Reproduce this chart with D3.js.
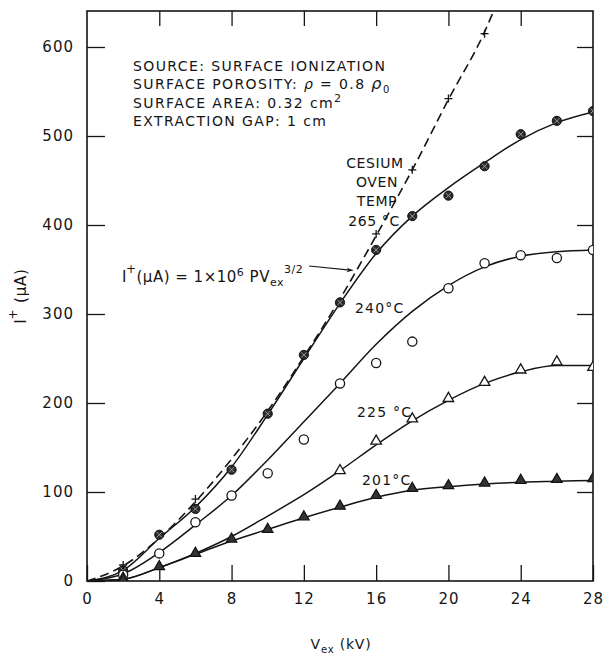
<!DOCTYPE html>
<html>
<head>
<meta charset="UTF-8">
<script src="https://cdn.jsdelivr.net/npm/d3@7/dist/d3.min.js"></script>
<style>
body{
    margin: 0;
    background: #fff;
}
text{
    font-family: "DejaVu Sans", sans-serif;
    fill: #151515;
}
</style>
</head>
<body>
<script>
var width = 604;
var height = 654;

// axis ticks
var xTicks = [0, 4, 8, 12, 16, 20, 24, 28];
var yTicks = [0, 100, 200, 300, 400, 500, 600];

// measured points, V_ex in kV, I+ in uA
var vPts = [2, 4, 6, 8, 10, 12, 14, 16, 18, 20, 22, 24, 26, 28];
var pts265 = [12, 52, 81, 125, 188, 254, 313, 372, 410, 433, 466, 502, 517, 528];
var pts240 = [7, 31, 66, 96, 121, 159, 222, 245, 269, 329, 357, 366, 363, 372];
var pts201 = [0, 15, 30, 46, 57, 71, 83, 95, 103, 106, 109, 112, 113, 114];
var vPts225 = [2, 14, 16, 18, 20, 22, 24, 26, 28];
var pts225 = [2, 123, 156, 181, 204, 222, 236, 245, 239];

// child-Langmuir marks (+)
var vTheoryPts = [2, 6, 16, 18, 20, 22];
var theoryPts = [18, 92, 390, 462, 542, 615];

// drawn curves
var vFit = [0, 2, 4, 6, 8, 10, 12, 14, 16, 18, 20, 22, 24, 26, 28];
var fit265 = [0, 12, 48, 83, 128, 187, 250, 312, 368, 410, 442, 470, 496, 515, 527];
var fit240 = [0, 8, 32, 63, 96, 136, 179, 222, 266, 303, 332, 353, 365, 370, 372];
var fit225 = [0, 2, 15, 31, 50, 73, 97, 124, 153, 180, 203, 222, 235, 242, 242];
var fit201 = [0, 2, 15, 30, 45, 58, 71, 83, 94, 102, 106, 109, 111, 112, 113];
var vTheory = [0, 2, 4, 6, 8, 10, 12, 14, 16, 18, 20, 22, 22.7];
var theory = [0, 17, 48, 89, 137, 191, 252, 317, 388, 462, 541, 617, 650];

var pLeft = 87, pRight = 593, pTop = 11, pBottom = 581;

var x = d3.scaleLinear().domain([0, 28]).range([pLeft, pRight]);
var y = d3.scaleLinear().domain([0, 600]).range([pBottom, 47]);

var svg = d3.select('body')
    .append('svg')
    .attr('width', width)
    .attr('height', height)

var defs = svg.append("defs")
defs.append("clipPath").attr("id", "plotclip")
    .append("rect")
    .attr("x", pLeft).attr("y", pTop)
    .attr("width", pRight - pLeft).attr("height", pBottom - pTop)

defs.append("marker")
    .attr("id", "arrow")
    .attr("viewBox", "0 0 10 10")
    .attr("refX", 10).attr("refY", 5)
    .attr("markerWidth", 9).attr("markerHeight", 6)
    .attr("markerUnits", "userSpaceOnUse")
    .attr("orient", "auto")
    .append("path").attr("d", "M0,1 L10,5 L0,9 L3,5 Z").attr("fill", "#151515")

// axes: ticks point inwards
svg.append("g").attr("transform", "translate(" + pLeft + ",0)")
    .call(d3.axisLeft(y).tickValues(yTicks).tickSizeInner(-18).tickSizeOuter(0).tickPadding(13))
svg.append("g").attr("transform", "translate(0," + pBottom + ")")
    .call(d3.axisBottom(x).tickValues(xTicks).tickSizeInner(-16).tickSizeOuter(0).tickPadding(12))
svg.append("g").attr("transform", "translate(0," + pTop + ")")
    .call(d3.axisTop(x).tickValues(xTicks.slice(1, -1)).tickSizeInner(-15).tickSizeOuter(0).tickFormat(""))
svg.append("g").attr("transform", "translate(" + pRight + ",0)")
    .call(d3.axisRight(y).tickValues(yTicks.slice(1)).tickSizeInner(-16).tickSizeOuter(0).tickFormat(""))

svg.selectAll(".domain").remove()
svg.selectAll(".tick line").attr("stroke", "#151515").attr("stroke-width", 1.3)
svg.selectAll(".tick text")
    .attr("font-size", 15)
    .attr("letter-spacing", 1)
    .attr("fill", "#151515")
    .style("font-family", "DejaVu Sans")

svg.append("rect")
    .attr("x", pLeft).attr("y", pTop)
    .attr("width", pRight - pLeft).attr("height", pBottom - pTop)
    .attr("fill", "none")
    .attr("stroke", "#151515")
    .attr("stroke-width", 1.6)

// curves
var plot = svg.append("g").attr("clip-path", "url(#plotclip)")
function curve(xs, ys){
    return d3.line()
        .x(function(d, i){ return x(xs[i]) })
        .y(function(d){ return y(d) })
        .curve(d3.curveMonotoneX)(ys)
}
plot.append("path").attr("d", curve(vTheory, theory))
    .attr("fill", "none").attr("stroke", "#151515").attr("stroke-width", 1.6)
    .attr("stroke-dasharray", "9,5")
var fits = [fit265, fit240, fit225, fit201]
for (var i = 0; i < fits.length; i++){
    plot.append("path").attr("d", curve(vFit, fits[i]))
        .attr("fill", "none").attr("stroke", "#151515").attr("stroke-width", 1.5)
}

// markers
var tri = d3.symbol().type(d3.symbolTriangle).size(48)

plot.selectAll(".m265").data(pts265).enter().append("g")
    .attr("transform", function(d, i){ return "translate(" + x(vPts[i]) + "," + y(d) + ")" })
    .each(function(){
        var g = d3.select(this)
        g.append("circle").attr("r", 4.6).attr("fill", "#2a2a2a").attr("stroke", "#111").attr("stroke-width", 1)
        g.append("path").attr("d", "M-2.6,-2.6L2.6,2.6M-2.6,2.6L2.6,-2.6").attr("stroke", "#9a9a9a").attr("stroke-width", 1)
    })

plot.selectAll(".m240").data(pts240).enter().append("circle")
    .attr("cx", function(d, i){ return x(vPts[i]) })
    .attr("cy", function(d){ return y(d) })
    .attr("r", 4.6)
    .attr("fill", "#fff").attr("stroke", "#151515").attr("stroke-width", 1.3)

plot.selectAll(".m225").data(pts225).enter().append("path")
    .attr("d", tri)
    .attr("transform", function(d, i){ return "translate(" + x(vPts225[i]) + "," + (y(d) - 1) + ")" })
    .attr("fill", "#fff").attr("stroke", "#151515").attr("stroke-width", 1.3)

plot.selectAll(".m201").data(pts201).enter().append("path")
    .attr("d", tri)
    .attr("transform", function(d, i){ return "translate(" + x(vPts[i]) + "," + (y(d) - 1) + ")" })
    .attr("fill", "#333").attr("stroke", "#111").attr("stroke-width", 1.2)

plot.selectAll(".mth").data(theoryPts).enter().append("path")
    .attr("d", "M-4,0L4,0M0,-4L0,4")
    .attr("transform", function(d, i){ return "translate(" + x(vTheoryPts[i]) + "," + y(d) + ")" })
    .attr("stroke", "#151515").attr("stroke-width", 1.3)

// text notes
var notes = svg.append("g").attr("font-size", 14).attr("letter-spacing", 1.4)
notes.append("text").attr("x", 133).attr("y", 71).text("SOURCE: SURFACE IONIZATION")
var t2 = notes.append("text").attr("x", 133).attr("y", 89)
t2.append("tspan").text("SURFACE POROSITY: ")
t2.append("tspan").attr("font-style", "italic").text("ρ")
t2.append("tspan").text(" = 0.8 ")
t2.append("tspan").attr("font-style", "italic").attr("font-size", 16).text("ρ")
t2.append("tspan").attr("font-size", 10).attr("dy", 4).text("0")
var t3 = notes.append("text").attr("x", 133).attr("y", 108)
t3.append("tspan").text("SURFACE AREA: 0.32 cm")
t3.append("tspan").attr("font-size", 11).attr("dy", -6).text("2")
notes.append("text").attr("x", 133).attr("y", 126).text("EXTRACTION GAP: 1 cm")

var lab = svg.append("g").attr("font-size", 14).attr("text-anchor", "middle").attr("letter-spacing", 0.6)
lab.append("text").attr("x", 375).attr("y", 168).text("CESIUM")
lab.append("text").attr("x", 377).attr("y", 187).text("OVEN")
lab.append("text").attr("x", 377).attr("y", 206).text("TEMP")
lab.append("text").attr("x", 374).attr("y", 226).text("265 °C")

var lab2 = svg.append("g").attr("font-size", 14).attr("letter-spacing", 1.2)
lab2.append("text").attr("x", 355).attr("y", 313).text("240°C")
lab2.append("text").attr("x", 357).attr("y", 417).text("225 °C")
lab2.append("text").attr("x", 362).attr("y", 485).text("201°C")

var eq = svg.append("text").attr("x", 122).attr("y", 282).attr("font-size", 15).attr("letter-spacing", 0.5)
eq.append("tspan").text("I")
eq.append("tspan").attr("font-size", 12).attr("dx", -1).attr("dy", -9).text("+")
eq.append("tspan").attr("dy", 9).text("(μA) = 1×10")
eq.append("tspan").attr("font-size", 11).attr("dy", -6).text("6")
eq.append("tspan").attr("dy", 6).text("  PV")
eq.append("tspan").attr("font-size", 11).attr("dy", 4).text("ex")
eq.append("tspan").attr("font-size", 11).attr("dy", -13).text("3/2")

svg.append("line")
    .attr("x1", 309).attr("y1", 266)
    .attr("x2", x(14.7)).attr("y2", y(349))
    .attr("stroke", "#151515").attr("stroke-width", 1.1)
    .attr("marker-end", "url(#arrow)")

// axis titles
var yt = svg.append("text")
    .attr("transform", "translate(26," + ((pTop + pBottom) / 2) + ") rotate(-90)")
    .attr("text-anchor", "middle")
    .attr("font-size", 15)
    .attr("letter-spacing", 0.8)
yt.append("tspan").text("I")
yt.append("tspan").attr("font-size", 12).attr("dx", -1).attr("dy", -9).text("+")
yt.append("tspan").attr("dy", 9).text(" (μA)")

var xt = svg.append("text")
    .attr("x", 341).attr("y", 649)
    .attr("text-anchor", "middle")
    .attr("font-size", 14)
    .attr("letter-spacing", 0.8)
xt.append("tspan").text("V")
xt.append("tspan").attr("font-size", 10).attr("dy", 4).text("ex")
xt.append("tspan").attr("dy", -4).text(" (kV)")
</script>
</body>
</html>
